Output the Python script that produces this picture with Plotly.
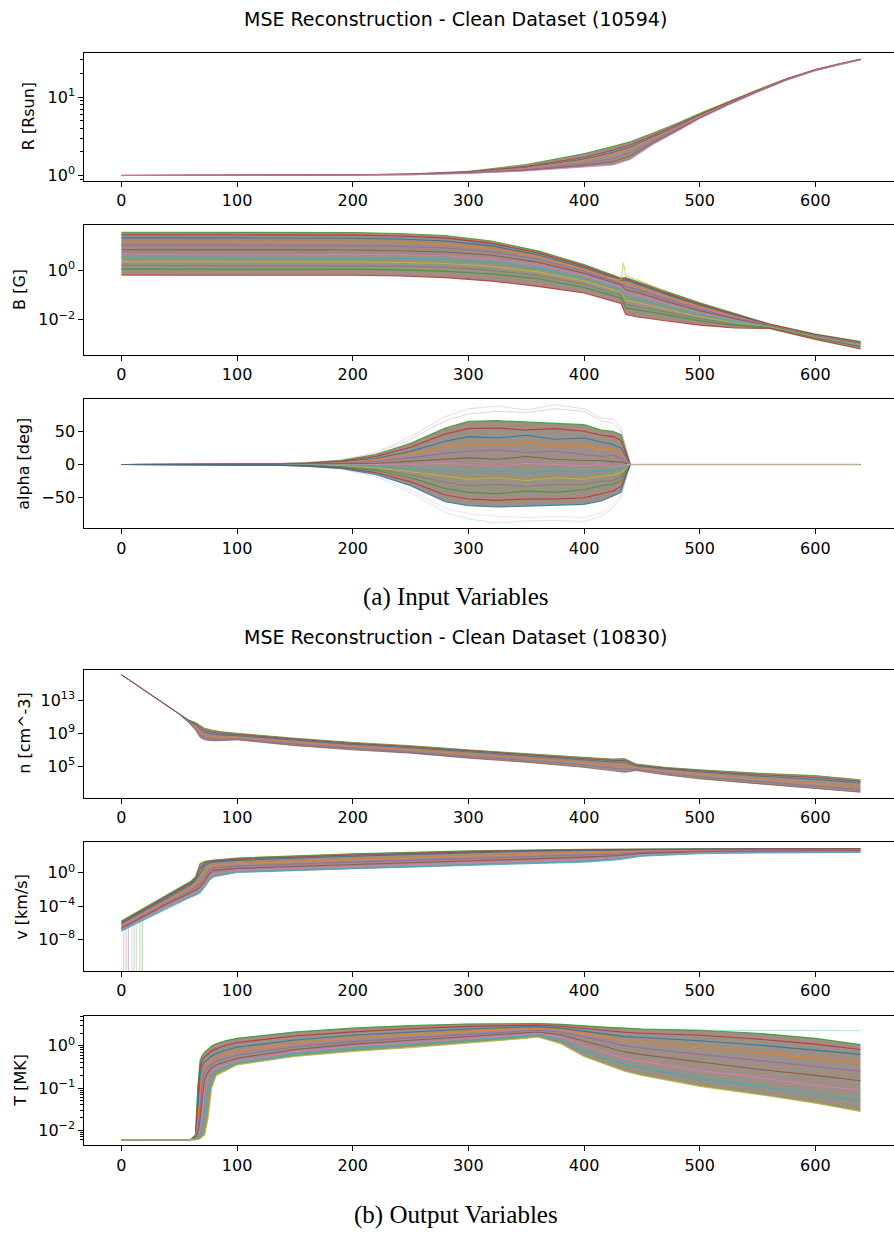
import plotly.graph_objects as go

TAB10 = ['#1f77b4', '#ff7f0e', '#2ca02c', '#d62728', '#9467bd',
         '#8c564b', '#e377c2', '#7f7f7f', '#bcbd22', '#17becf']
ORDER = [2, 3, 0, 1, 4, 5, 6, 9, 8, 7]

TITLE_A = "MSE Reconstruction - Clean Dataset (10594)"
TITLE_B = "MSE Reconstruction - Clean Dataset (10830)"
CAPTION_A = "(a) Input Variables"
CAPTION_B = "(b) Output Variables"
X_TICKS = [0, 100, 200, 300, 400, 500, 600]

# ---------------- R [Rsun] ----------------
r_x = [0, 100, 200, 250, 300, 350, 400, 425, 440, 460, 480, 500, 525, 550, 575, 600, 620, 639]
r_up = [1.00, 1.00, 1.02, 1.05, 1.13, 1.38, 1.90, 2.35, 2.70, 3.50, 4.60, 6.20, 8.80, 12.4, 17.2, 22.5, 26.5, 30.5]
r_c1 = [1.00, 1.00, 1.02, 1.04, 1.11, 1.30, 1.70, 2.10, 2.45, 3.25, 4.35, 5.95, 8.60, 12.2, 17.0, 22.3, 26.3, 30.3]
r_c1a = [1.00, 1.00, 1.02, 1.04, 1.10, 1.27, 1.62, 1.97, 2.30, 3.12, 4.22, 5.85, 8.50, 12.1, 16.9, 22.2, 26.2, 30.2]
r_c2 = [1.00, 1.00, 1.01, 1.03, 1.09, 1.24, 1.55, 1.85, 2.15, 3.00, 4.10, 5.75, 8.40, 12.0, 16.8, 22.1, 26.1, 30.1]
r_c3 = [1.00, 1.00, 1.01, 1.03, 1.08, 1.19, 1.42, 1.65, 1.95, 2.80, 3.90, 5.55, 8.20, 11.8, 16.6, 21.9, 25.9, 29.9]
r_c3a = [1.00, 1.00, 1.01, 1.02, 1.07, 1.16, 1.35, 1.50, 1.78, 2.65, 3.75, 5.42, 8.05, 11.65, 16.45, 21.75, 25.75, 29.75]
r_lo = [1.00, 1.00, 1.01, 1.02, 1.06, 1.14, 1.28, 1.36, 1.60, 2.50, 3.60, 5.30, 7.90, 11.5, 16.3, 21.6, 25.6, 29.6]

# ---------------- B [G] ----------------
b_x = [0, 100, 200, 240, 280, 320, 360, 400, 425, 432, 436, 445, 470, 500, 530, 560, 600, 639]
b_1 = [34, 34, 33, 30, 25, 15, 6.0, 1.7, 0.62, 0.48, 0.50, 0.36, 0.14, 0.048, 0.018, 0.0068, 0.0026, 0.0013]
b_1a = [27, 27, 26, 24, 20, 12, 5.0, 1.45, 0.55, 0.43, 0.45, 0.32, 0.125, 0.043, 0.0165, 0.0065, 0.0025, 0.00125]
b_2 = [20, 20, 19.5, 18, 15, 9.5, 4.2, 1.25, 0.48, 0.38, 0.40, 0.28, 0.11, 0.038, 0.015, 0.0062, 0.0024, 0.0012]
b_2a = [14, 14, 13.7, 12.8, 11, 7.3, 3.4, 1.05, 0.42, 0.33, 0.30, 0.22, 0.09, 0.032, 0.0135, 0.006, 0.0023, 0.00115]
b_3 = [10, 10, 9.8, 9.2, 7.8, 5.5, 2.8, 0.9, 0.36, 0.29, 0.22, 0.17, 0.07, 0.027, 0.012, 0.0058, 0.0022, 0.0011]
b_3a = [6.7, 6.7, 6.5, 6.1, 5.4, 4.0, 2.1, 0.75, 0.31, 0.25, 0.16, 0.13, 0.057, 0.023, 0.0108, 0.0056, 0.00215, 0.00105]
b_4 = [4.5, 4.5, 4.4, 4.2, 3.8, 2.8, 1.6, 0.6, 0.26, 0.21, 0.12, 0.10, 0.045, 0.019, 0.0095, 0.0054, 0.0021, 0.0010]
b_4a = [3.1, 3.1, 3.05, 2.9, 2.6, 2.0, 1.15, 0.46, 0.2, 0.16, 0.085, 0.07, 0.035, 0.016, 0.0085, 0.0052, 0.002, 0.00095]
b_5 = [2.2, 2.2, 2.15, 2.05, 1.85, 1.4, 0.85, 0.36, 0.16, 0.13, 0.06, 0.05, 0.027, 0.013, 0.0075, 0.0050, 0.0019, 0.0009]
b_5a = [1.55, 1.55, 1.52, 1.45, 1.3, 1.0, 0.62, 0.27, 0.12, 0.1, 0.042, 0.035, 0.02, 0.011, 0.0066, 0.0048, 0.00185, 0.00085]
b_6 = [1.1, 1.1, 1.08, 1.02, 0.9, 0.7, 0.45, 0.2, 0.09, 0.075, 0.03, 0.025, 0.016, 0.009, 0.0058, 0.0047, 0.0018, 0.0008]
b_7 = [0.63, 0.63, 0.62, 0.58, 0.5, 0.36, 0.22, 0.12, 0.055, 0.045, 0.016, 0.013, 0.009, 0.006, 0.0046, 0.0044, 0.0016, 0.00065]
b_spike_x = [420, 432, 434, 436, 440, 450, 470]
b_spike = [0.5, 0.4, 2.0, 0.6, 0.5, 0.35, 0.14]

# ---------------- alpha [deg] ----------------
a_x = [0, 100, 130, 160, 190, 220, 250, 280, 300, 325, 350, 375, 400, 415, 425, 432, 437, 440, 639]
a_out_up = [0, 0, 1, 3, 7, 18, 42, 72, 84, 88, 82, 90, 84, 70, 68, 55, 20, 0, 0]
a_out2_up = [0, 0, 1, 3, 6, 16, 38, 66, 76, 80, 78, 84, 80, 66, 62, 50, 18, 0, 0]
a_up = [0, 0, 1, 2.5, 6, 15, 32, 55, 65, 66, 64, 63, 60, 52, 50, 45, 15, 0, 0]
a_2a = [0, 0, 0.8, 2, 5, 12, 26, 46, 54, 55, 52, 54, 50, 44, 42, 36, 12, 0, 0]
a_2 = [0, 0, 0.5, 1.5, 4, 9, 20, 35, 42, 40, 44, 38, 40, 34, 30, 25, 8, 0, 0]
a_3a = [0, 0, 0.4, 1.1, 3, 7, 15, 26, 30, 28, 32, 28, 28, 22, 22, 18, 6, 0, 0]
a_3 = [0, 0, 0.3, 0.8, 2, 5, 10, 17, 20, 22, 18, 20, 15, 12, 14, 10, 4, 0, 0]
a_4a = [0, 0, 0.1, 0.3, 1, 2, 5, 8, 10, 8, 12, 8, 6, 6, 4, 4, 2, 0, 0]
a_4 = [0, 0, 0, 0, 0, 0, 0, 2, 0, -3, 2, 0, -2, 0, -4, -2, 0, 0, 0]
a_5a = [0, 0, -0.2, -0.5, -1, -3, -6, -9, -12, -10, -13, -10, -12, -9, -10, -6, -3, 0, 0]
a_5 = [0, 0, -0.3, -0.8, -2, -5, -11, -18, -22, -20, -24, -20, -22, -18, -16, -12, -5, 0, 0]
a_6a = [0, 0, -0.4, -1.1, -3, -7, -15, -27, -32, -30, -33, -30, -30, -25, -24, -18, -7, 0, 0]
a_6 = [0, 0, -0.5, -1.5, -4, -9, -20, -36, -42, -44, -40, -42, -38, -32, -30, -24, -9, 0, 0]
a_lo_a = [0, 0, -0.8, -2, -5, -12, -26, -46, -52, -54, -52, -52, -50, -44, -40, -33, -11, 0, 0]
a_lo = [0, 0, -1, -2.5, -6, -15, -32, -56, -62, -64, -63, -62, -60, -55, -48, -42, -14, 0, 0]
a_out2_lo = [0, 0, -1, -3, -6, -16, -38, -66, -74, -78, -80, -78, -80, -72, -60, -46, -16, 0, 0]
a_out_lo = [0, 0, -1, -3, -7, -18, -42, -72, -82, -88, -85, -84, -86, -78, -65, -50, -18, 0, 0]
a_tail_x = [437, 639]
a_tail = [0, 0]

# ---------------- n [cm^-3] ----------------
n_x = [0, 50, 58, 64, 68, 72, 78, 85, 100, 150, 200, 250, 300, 350, 400, 425, 435, 445, 470, 500, 550, 600, 639]
n_1 = [1.12e16, 2.0e11, 4.0e10, 2.0e10, 7.9e9, 4.0e9, 2.5e9, 1.6e9, 1.0e9, 2.5e8, 7.9e7, 3.2e7, 1.0e7, 3.2e6, 1.26e6, 7.9e5, 8.9e5, 2.0e5, 7.9e4, 4.0e4, 1.6e4, 7.9e3, 2.5e3]
n_2a = [1.12e16, 2.0e11, 3.6e10, 1.4e10, 5.0e9, 2.2e9, 1.4e9, 1.0e9, 7.0e8, 1.9e8, 6.0e7, 2.4e7, 7.5e6, 2.4e6, 9.0e5, 5.3e5, 5.3e5, 1.5e5, 6.3e4, 3.0e4, 1.05e4, 4.7e3, 1.6e3]
n_2 = [1.12e16, 2.0e11, 3.2e10, 1.0e10, 3.2e9, 1.26e9, 7.9e8, 6.3e8, 5.0e8, 1.4e8, 4.5e7, 1.8e7, 5.6e6, 1.8e6, 6.3e5, 3.5e5, 3.2e5, 1.1e5, 5.0e4, 2.2e4, 7.1e3, 2.8e3, 1.0e3]
n_3 = [1.12e16, 2.0e11, 2.5e10, 6.3e9, 1.26e9, 5.0e8, 3.5e8, 3.2e8, 2.8e8, 7.9e7, 2.5e7, 1.0e7, 2.8e6, 8.9e5, 2.8e5, 1.4e5, 1.0e5, 7.1e4, 2.5e4, 1.0e4, 2.8e3, 890, 316]
n_3a = [1.12e16, 2.0e11, 2.2e10, 4.0e9, 6.3e8, 2.8e8, 2.1e8, 2.0e8, 2.1e8, 5.0e7, 1.6e7, 6.3e6, 1.7e6, 5.3e5, 1.5e5, 6.7e4, 4.5e4, 4.8e4, 1.6e4, 5.6e3, 1.5e3, 420, 160]
n_4 = [1.12e16, 2.0e11, 2.0e10, 2.5e9, 3.2e8, 1.6e8, 1.26e8, 1.26e8, 1.6e8, 3.2e7, 1.0e7, 4.0e6, 1.0e6, 3.2e5, 7.9e4, 3.2e4, 2.0e4, 3.2e4, 1.0e4, 3.2e3, 790, 200, 79]

# ---------------- v [km/s] ----------------
v_x = [0, 20, 40, 60, 64, 68, 72, 76, 80, 100, 200, 300, 350, 400, 430, 450, 500, 550, 639]
v_1 = [1.6e-6, 6.3e-5, 2.5e-3, 0.1, 0.32, 12.6, 25, 32, 35, 63, 200, 450, 600, 710, 760, 790, 830, 850, 850]
v_1a = [1.1e-6, 4.0e-5, 1.6e-3, 0.063, 0.2, 3.2, 15, 25, 28, 45, 140, 340, 500, 600, 660, 710, 770, 780, 780]
v_2 = [7.9e-7, 2.5e-5, 1.0e-3, 0.04, 0.126, 0.79, 7.9, 15.8, 20, 32, 100, 250, 400, 500, 560, 630, 710, 710, 710]
v_3 = [4.0e-7, 1.26e-5, 4.0e-4, 0.0126, 0.032, 0.1, 1.0, 5.0, 7.9, 12.6, 40, 100, 160, 250, 316, 400, 500, 560, 560]
v_3a = [2.8e-7, 9.0e-6, 2.8e-4, 7.0e-3, 0.016, 0.045, 0.3, 2.0, 4.0, 6.5, 20, 50, 80, 140, 200, 300, 420, 480, 490]
v_4 = [2.0e-7, 6.3e-6, 2.0e-4, 4.0e-3, 7.9e-3, 0.02, 0.1, 0.79, 2.0, 3.5, 10, 25, 40, 79, 126, 224, 355, 400, 417]
v_4a = [1.4e-7, 4.0e-6, 1.1e-4, 2.2e-3, 4.0e-3, 9.0e-3, 0.045, 0.3, 0.8, 2.0, 5.6, 14, 22, 40, 70, 150, 270, 320, 340]
v_5 = [1.0e-7, 2.5e-6, 6.3e-5, 1.26e-3, 2.0e-3, 4.0e-3, 0.02, 0.126, 0.35, 1.12, 3.2, 7.9, 12.6, 20, 40, 100, 200, 250, 280]
v_drop_x = [2, 4, 6, 9, 11, 13, 16, 18]
v_drop_top = [6e-7, 9e-7, 4e-7, 1e-6, 7e-7, 5e-7, 2e-6, 1.5e-6]
v_drop_bottom = 1e-13

# ---------------- T [MK] ----------------
t_x = [0, 60, 64, 66, 68, 70, 72, 75, 78, 82, 90, 100, 150, 200, 250, 300, 350, 360, 380, 400, 420, 435, 450, 500, 550, 600, 639]
t_1 = [0.006, 0.006, 0.0079, 0.1, 0.45, 0.6, 0.71, 0.85, 1.0, 1.12, 1.32, 1.51, 2.14, 2.63, 3.02, 3.31, 3.39, 3.39, 3.24, 2.95, 2.75, 2.63, 2.51, 2.34, 2.0, 1.51, 1.07]
t_1a = [0.006, 0.006, 0.0075, 0.05, 0.3, 0.46, 0.55, 0.65, 0.76, 0.86, 1.02, 1.2, 1.72, 2.15, 2.55, 2.9, 3.1, 3.1, 2.92, 2.58, 2.3, 2.1, 2.0, 1.78, 1.45, 1.1, 0.82]
t_2 = [0.006, 0.006, 0.0071, 0.025, 0.2, 0.355, 0.42, 0.5, 0.575, 0.66, 0.79, 0.93, 1.38, 1.78, 2.14, 2.51, 2.82, 2.82, 2.63, 2.24, 1.9, 1.66, 1.58, 1.32, 1.05, 0.79, 0.63]
t_2a = [0.006, 0.006, 0.0067, 0.016, 0.08, 0.24, 0.32, 0.4, 0.46, 0.53, 0.63, 0.75, 1.15, 1.5, 1.82, 2.18, 2.55, 2.58, 2.38, 1.93, 1.55, 1.3, 1.2, 0.92, 0.68, 0.5, 0.4]
t_3 = [0.006, 0.006, 0.0063, 0.01, 0.032, 0.16, 0.25, 0.32, 0.37, 0.43, 0.5, 0.6, 0.95, 1.26, 1.55, 1.9, 2.29, 2.34, 2.14, 1.66, 1.26, 1.0, 0.89, 0.63, 0.45, 0.32, 0.25]
t_3a = [0.006, 0.006, 0.0061, 0.0085, 0.018, 0.06, 0.16, 0.24, 0.3, 0.36, 0.42, 0.51, 0.82, 1.1, 1.36, 1.68, 2.06, 2.14, 1.84, 1.3, 0.92, 0.72, 0.62, 0.41, 0.28, 0.2, 0.15]
t_4 = [0.006, 0.006, 0.006, 0.0071, 0.01, 0.025, 0.1, 0.178, 0.25, 0.3, 0.355, 0.43, 0.71, 0.98, 1.2, 1.48, 1.86, 1.95, 1.58, 1.0, 0.66, 0.5, 0.43, 0.26, 0.178, 0.117, 0.089]
t_4a = [0.006, 0.006, 0.006, 0.0065, 0.008, 0.013, 0.03, 0.09, 0.17, 0.25, 0.3, 0.39, 0.63, 0.85, 1.05, 1.3, 1.68, 1.78, 1.33, 0.75, 0.48, 0.36, 0.3, 0.17, 0.11, 0.072, 0.05]
t_5 = [0.006, 0.006, 0.006, 0.006, 0.0063, 0.0071, 0.0079, 0.02, 0.1, 0.2, 0.26, 0.355, 0.56, 0.74, 0.91, 1.15, 1.51, 1.62, 1.12, 0.56, 0.355, 0.25, 0.2, 0.11, 0.071, 0.044, 0.028]
t_out = [0.006, 0.006, 0.0079, 0.1, 0.45, 0.6, 0.71, 0.85, 1.0, 1.12, 1.32, 1.51, 2.14, 2.63, 3.02, 3.31, 3.39, 3.39, 3.24, 2.95, 2.75, 2.63, 2.51, 2.34, 2.29, 2.29, 2.29]

# ---------------- figure ----------------
W, H = 894, 1234
FONT = "DejaVu Sans"
BAND = "rgba(128,112,96,0.78)"

fig = go.Figure()


def band(k, x, lo, hi):
    xa, ya = f"x{k}", f"y{k}"
    fig.add_trace(go.Scatter(x=x + x[::-1], y=hi + lo[::-1], xaxis=xa, yaxis=ya,
                             mode="lines", line=dict(width=0), fill="toself",
                             fillcolor=BAND, hoverinfo="skip", showlegend=False))


def lines(k, x, curves, width=1.1, opacity=0.85, start=0):
    xa, ya = f"x{k}", f"y{k}"
    for i, c in enumerate(curves):
        col = TAB10[ORDER[(i + start) % 10]]
        fig.add_trace(go.Scatter(x=x, y=c, xaxis=xa, yaxis=ya, mode="lines",
                                 line=dict(color=col, width=width), opacity=opacity,
                                 hoverinfo="skip", showlegend=False))


# panel 1
band(1, r_x, r_lo, r_up)
lines(1, r_x, [r_up, r_c1, r_c1a, r_c2, r_c3, r_c3a, r_lo], width=0.9)
# panel 2
band(2, b_x, b_7, b_1)
lines(2, b_x, [b_1, b_1a, b_2, b_2a, b_3, b_3a, b_4, b_4a, b_5, b_5a, b_6, b_7])
lines(2, b_spike_x, [b_spike], start=8, opacity=0.6)
# panel 3
lines(3, a_x, [a_out_up, a_out2_up, a_out2_lo, a_out_lo], width=0.6, opacity=0.4, start=4)
band(3, a_x, a_lo, a_up)
lines(3, a_x, [a_up, a_2a, a_2, a_3a, a_3, a_4a, a_4, a_5a, a_5, a_6a, a_6, a_lo_a, a_lo])
fig.add_trace(go.Scatter(x=a_tail_x, y=a_tail, xaxis="x3", yaxis="y3", mode="lines",
                         line=dict(color="#c4ab8c", width=1.6), hoverinfo="skip", showlegend=False))
# panel 4
band(4, n_x, n_4, n_1)
lines(4, n_x, [n_1, n_2a, n_2, n_3, n_3a, n_4], width=0.9)
# panel 5
for i, dx in enumerate(v_drop_x):
    fig.add_trace(go.Scatter(x=[dx, dx], y=[v_drop_bottom, v_drop_top[i]], xaxis="x5", yaxis="y5",
                             mode="lines", line=dict(color=TAB10[ORDER[(i + 3) % 10]], width=0.8),
                             opacity=0.5, hoverinfo="skip", showlegend=False))
band(5, v_x, v_5, v_1)
lines(5, v_x, [v_1, v_1a, v_2, v_3, v_3a, v_4, v_4a, v_5])
# panel 6
lines(6, t_x, [t_out], width=0.8, opacity=0.5, start=7)
band(6, t_x, t_5, t_1)
lines(6, t_x, [t_1, t_1a, t_2, t_2a, t_3, t_3a, t_4, t_4a, t_5])

# axes geometry (pixel boxes)
boxes = {1: (52.7, 181.7), 2: (226.0, 355.7), 3: (400.7, 530.0),
         4: (671.7, 800.7), 5: (845.0, 974.3), 6: (1019.3, 1149.0)}
yranges = {1: [-0.072, 1.567], 2: [-3.41, 1.812], 3: [-96, 98],
           4: [1.19, 16.67], 5: [-11.84, 3.69], 6: [-2.354, 0.708]}
ytickvals = {1: [1, 10], 2: [0.01, 1], 3: [-50, 0, 50],
             4: [1e5, 1e9, 1e13], 5: [1e-8, 1e-4, 1], 6: [0.01, 0.1, 1]}
yticktext = {1: ["10<sup>0</sup>", "10<sup>1</sup>"],
             2: ["10<sup>\u22122</sup>", "10<sup>0</sup>"],
             3: ["\u221250", "0", "50"],
             4: ["10<sup>5</sup>", "10<sup>9</sup>", "10<sup>13</sup>"],
             5: ["10<sup>\u22128</sup>", "10<sup>\u22124</sup>", "10<sup>0</sup>"],
             6: ["10<sup>\u22122</sup>", "10<sup>\u22121</sup>", "10<sup>0</sup>"]}
yminor = {1: [0.9, 2, 3, 4, 5, 6, 7, 8, 9, 20, 30],
          6: [0.006, 0.007, 0.008, 0.009, 0.02, 0.03, 0.04, 0.05, 0.06, 0.07, 0.08, 0.09,
              0.2, 0.3, 0.4, 0.5, 0.6, 0.7, 0.8, 0.9, 2, 3, 4, 5]}
ylabels = {1: ("R [Rsun]", 28.5), 2: ("B [G]", 20), 3: ("alpha [deg]", 24),
           4: ("n [cm^-3]", 25), 5: ("v [km/s]", 22), 6: ("T [MK]", 21)}

x_left = 84.4 / W
tickfont = dict(family=FONT, size=16, color="black")
layout = dict(width=W, height=H, margin=dict(l=0, r=0, t=0, b=0),
              paper_bgcolor="white", plot_bgcolor="white", showlegend=False)
annotations = []
for k in range(1, 7):
    top, bot = boxes[k]
    dom = [1 - bot / H, 1 - top / H]
    sfx = "" if k == 1 else str(k)
    layout[f"xaxis{sfx}"] = dict(domain=[x_left, 1.0], anchor=f"y{k}", range=[-32, 668],
                                 tickmode="array", tickvals=X_TICKS, ticks="outside", ticklen=5,
                                 tickwidth=1, tickcolor="black", showline=True, linecolor="black",
                                 linewidth=1.2, mirror=True, showgrid=False, zeroline=False,
                                 tickfont=tickfont)
    yax = dict(domain=dom, anchor=f"x{k}", range=yranges[k], tickmode="array",
               tickvals=ytickvals[k], ticktext=yticktext[k], ticks="outside", ticklen=5,
               tickwidth=1, tickcolor="black", showline=True, linecolor="black",
               linewidth=1.2, mirror=False, showgrid=False, zeroline=False, tickfont=tickfont)
    if k != 3:
        yax["type"] = "log"
    if k in yminor:
        yax["minor"] = dict(tickmode="array", tickvals=yminor[k], ticks="outside",
                            ticklen=3, tickwidth=0.8, tickcolor="black", showgrid=False)
    layout[f"yaxis{sfx}"] = yax
    txt, xc = ylabels[k]
    annotations.append(dict(text=txt, x=xc / W, y=1 - (top + bot) / 2 / H, xref="paper",
                            yref="paper", showarrow=False, textangle=-90, xanchor="center",
                            yanchor="middle", font=dict(family=FONT, size=16, color="black")))

for txt, yc in [(TITLE_A, 19), (TITLE_B, 639)]:
    annotations.append(dict(text=txt, x=455 / W, y=1 - yc / H, xref="paper", yref="paper",
                            showarrow=False, xanchor="center", yanchor="middle",
                            font=dict(family=FONT, size=19, color="black")))
for txt, yc in [(CAPTION_A, 599), (CAPTION_B, 1219)]:
    annotations.append(dict(text=txt, x=456 / W, y=1 - yc / H, xref="paper", yref="paper",
                            showarrow=False, xanchor="center", yanchor="middle",
                            font=dict(family="Liberation Serif", size=25, color="black")))
layout["annotations"] = annotations
fig.update_layout(**layout)
fig.write_html("out.html")
